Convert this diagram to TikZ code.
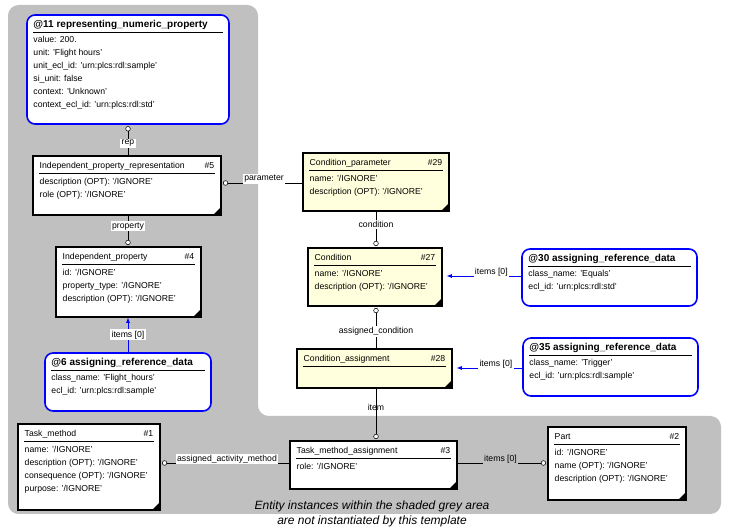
\documentclass[tikz,border=0pt]{standalone}
\usepackage{fontspec}
\setmainfont{Liberation Sans}
\usetikzlibrary{fit, arrows.meta}
\definecolor{greyarea}{RGB}{192, 192, 192}
\definecolor{condfill}{RGB}{255, 255, 221}
\definecolor{refblue}{RGB}{0, 0, 255}
\tikzset{
    x=0.75pt, y=-0.75pt,
    every node/.style={font=\fontsize{6.5}{9.75}\selectfont},
    plainbox/.style={draw, thick, fill=white, inner sep=0},
    condbox/.style={plainbox, fill=condfill},
    refbox/.style={draw=refblue, line width=1.2pt, rounded corners=6pt,
        fill=white, inner sep=0},
    link/.style={draw, semithick},
    reflink/.style={draw=refblue, semithick, -{Latex[length=4pt, width=3pt]}},
    ring/.style={circle, draw, fill=white, inner sep=0, minimum size=3.5pt},
    role/.style={fill=white, inner sep=1pt},
}
% style, name, top left, bottom right, title, number, attributes
\newcommand{\entity}[7]{
    \path #3 coordinate (#2-nw) #4 coordinate (#2-se);
    \node[#1, fit=(#2-nw)(#2-se)] (#2) {};
    \node[anchor=base west, inner sep=0] at ([shift={(7,13)}]#2.north west) {#5};
    \node[anchor=base east, inner sep=0] at ([shift={(-7,13)}]#2.north east) {#6};
    \draw ([shift={(7,18)}]#2.north west) -- ([shift={(-7,18)}]#2.north east);
    \node[anchor=north west, align=left, inner sep=0]
        at ([shift={(7,22)}]#2.north west) {#7};
}
\newcommand{\corner}[1]{
    \fill (#1.south east) -- ++(-9,0) -- ++(9,-9) -- cycle;
}
\begin{document}
\begin{tikzpicture}
    \useasboundingbox (0,0) rectangle (729,530);
    \fill[greyarea, rounded corners=8] (8,5) -- (258,5) -- (258,416) -- (721,416)
        -- (721,514) -- (8,514) -- cycle;

    \entity{refbox}{n11}{(27,15)}{(229,124)}
        {\textbf{\fontsize{7.5}{9}\selectfont @11 representing\_numeric\_property}}{}
        {value: 200.\\unit: 'Flight hours'\\unit\_ecl\_id: 'urn:plcs:rdl:sample'\\
        si\_unit: false\\context: 'Unknown'\\context\_ecl\_id: 'urn:plcs:rdl:std'}
    \entity{plainbox}{n5}{(33,156)}{(221,215)}
        {Independent\_property\_representation}{\#5}
        {description (OPT): '/IGNORE'\\role (OPT): '/IGNORE'}
    \corner{n5}
    \entity{plainbox}{n4}{(56,247)}{(201,317)}
        {Independent\_property}{\#4}
        {id: '/IGNORE'\\property\_type: '/IGNORE'\\description (OPT): '/IGNORE'}
    \corner{n4}
    \entity{refbox}{n6}{(45,353)}{(211,411)}
        {\textbf{\fontsize{7.5}{9}\selectfont @6 assigning\_reference\_data}}{}
        {class\_name: 'Flight\_hours'\\ecl\_id: 'urn:plcs:rdl:sample'}
    \entity{condbox}{n29}{(303,153)}{(449,211)}
        {Condition\_parameter}{\#29}
        {name: '/IGNORE'\\description (OPT): '/IGNORE'}
    \corner{n29}
    \entity{condbox}{n27}{(308,248)}{(442,306)}
        {Condition}{\#27}
        {name: '/IGNORE'\\description (OPT): '/IGNORE'}
    \corner{n27}
    \entity{refbox}{n30}{(522,249)}{(697,306)}
        {\textbf{\fontsize{7.5}{9}\selectfont @30 assigning\_reference\_data}}{}
        {class\_name: 'Equals'\\ecl\_id: 'urn:plcs:rdl:std'}
    \entity{condbox}{n28}{(297,349)}{(452,388)}
        {Condition\_assignment}{\#28}{}
    \corner{n28}
    \entity{refbox}{n35}{(523,338)}{(698,396)}
        {\textbf{\fontsize{7.5}{9}\selectfont @35 assigning\_reference\_data}}{}
        {class\_name: 'Trigger'\\ecl\_id: 'urn:plcs:rdl:sample'}
    \entity{plainbox}{n1}{(18,424)}{(160,510)}
        {Task\_method}{\#1}
        {name: '/IGNORE'\\description (OPT): '/IGNORE'\\
        consequence (OPT): '/IGNORE'\\purpose: '/IGNORE'}
    \corner{n1}
    \entity{plainbox}{n3}{(290,441)}{(457,489)}
        {Task\_method\_assignment}{\#3}{role: '/IGNORE'}
    \corner{n3}
    \entity{plainbox}{n2}{(548,427)}{(686,500)}
        {Part}{\#2}
        {id: '/IGNORE'\\name (OPT): '/IGNORE'\\description (OPT): '/IGNORE'}
    \corner{n2}

    % relations
    \draw[link] (n5.north -| 128,0) -- ([yshift=-3]n11.south -| 128,0)
        node[role, pos=.45] {rep};
    \node[ring] at ([yshift=-3]n11.south -| 128,0) {};
    \draw[link] (n5.south -| 128,0) -- ([yshift=3]n4.north -| 128,0)
        node[role, pos=.4] {property};
    \node[ring] at ([yshift=3]n4.north -| 128,0) {};
    \draw[reflink] (n6.north -| 128,0) -- (n4.south -| 128,0)
        node[role, pos=.5] {items [0]};
    \draw[link] (n29.west |- 0,183) -- ([xshift=3]n5.east |- 0,183)
        node[role, pos=.5, yshift=3] {parameter};
    \node[ring] at ([xshift=3]n5.east |- 0,183) {};
    \draw[link] (n29.south -| 376,0) -- ([yshift=3]n27.north -| 376,0)
        node[role, pos=.4] {condition};
    \node[ring] at ([yshift=3]n27.north -| 376,0) {};
    \draw[link] (n28.north -| 376,0) -- ([yshift=-3]n27.south -| 376,0)
        node[role, pos=.45] {assigned\_condition};
    \node[ring] at ([yshift=-3]n27.south -| 376,0) {};
    \draw[reflink] (n30.west |- 0,276) -- ([xshift=3]n27.east |- 0,276)
        node[role, pos=.4, yshift=3] {items [0]};
    \draw[reflink] (n35.west |- 0,368) -- ([xshift=3]n28.east |- 0,368)
        node[role, pos=.4, yshift=3] {items [0]};
    \draw[link] (n28.south -| 376,0) -- ([yshift=3]n3.north -| 376,0)
        node[role, pos=.4, fill=none] {item};
    \node[ring] at ([yshift=3]n3.north -| 376,0) {};
    \draw[link] (n3.west |- 0,463) -- ([xshift=3]n1.east |- 0,463)
        node[role, pos=.5, yshift=3] {assigned\_activity\_method};
    \node[ring] at ([xshift=3]n1.east |- 0,463) {};
    \draw[link] (n3.east |- 0,463) -- ([xshift=-3]n2.west |- 0,463)
        node[role, pos=.5, yshift=3, fill=greyarea] {items [0]};
    \node[ring] at ([xshift=-3]n2.west |- 0,463) {};

    \node[align=center, font=\itshape\fontsize{9}{11}\selectfont] (note)
        at (372,514) {Entity instances within the shaded grey area\\
        are not instantiated by this template};
\end{tikzpicture}
\end{document}
